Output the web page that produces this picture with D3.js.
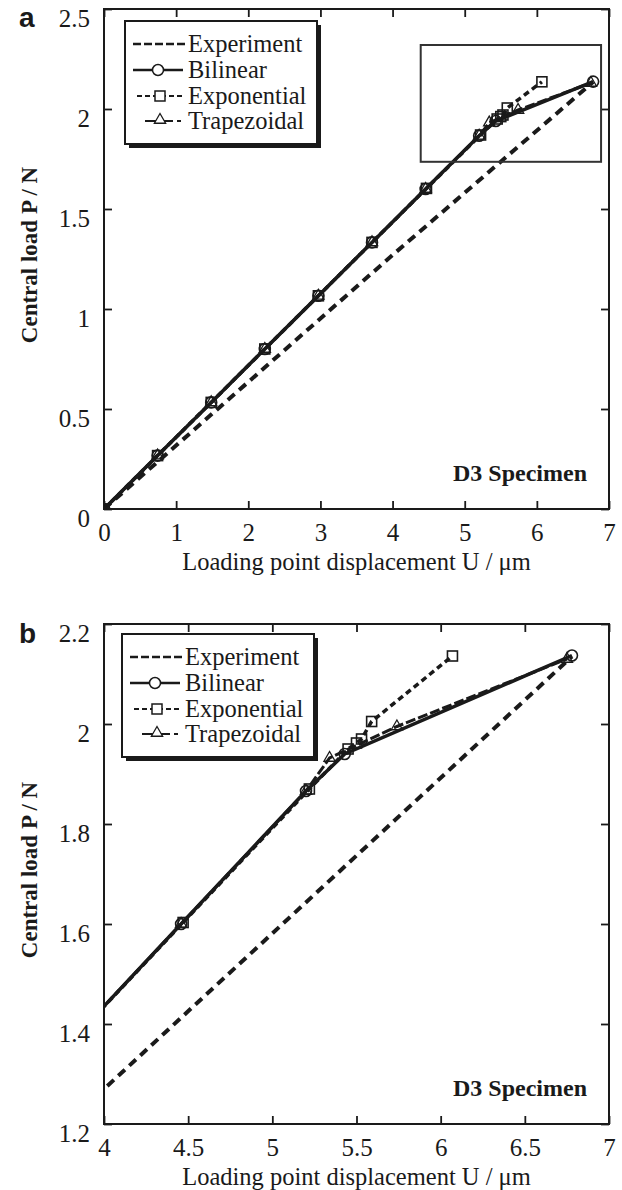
<!DOCTYPE html>
<html><head><meta charset="utf-8">
<script src="https://cdn.jsdelivr.net/npm/d3@7/dist/d3.min.js"></script>
<style>
html,body{margin:0;padding:0;background:#fff;}
svg{display:block;}
svg text{font-family:"Liberation Serif","Times New Roman",Times,"DejaVu Serif",serif;}
svg text.sans{font-family:"Liberation Sans",Arial,Helvetica,"DejaVu Sans",sans-serif;}
</style>
</head><body>
<svg id="chart" width="622" height="1190"></svg>
<script>
// ---- data ----
const seriesNames = ["Experiment", "Bilinear", "Exponential", "Trapezoidal"];
const expX = [0, 4.0, 6.78];
const expY = [0, 1.27, 2.135];
const bilX = [0, 0.743, 1.486, 2.229, 2.972, 3.715, 4.458, 5.2, 5.43, 6.78];
const bilY = [0, 0.267, 0.533, 0.800, 1.066, 1.333, 1.600, 1.866, 1.940, 2.137];
const expoX = [0, 0.743, 1.486, 2.229, 2.972, 3.715, 4.47, 5.22, 5.45, 5.5, 5.53, 5.59, 6.07];
const expoY = [0, 0.267, 0.533, 0.800, 1.066, 1.333, 1.603, 1.870, 1.950, 1.962, 1.970, 2.005, 2.136];
const trapX = [0, 0.743, 1.486, 2.229, 2.972, 3.715, 4.458, 5.2, 5.34, 5.74, 6.75];
const trapY = [0, 0.267, 0.533, 0.800, 1.066, 1.333, 1.600, 1.866, 1.932, 1.995, 2.13];
const zoomBoxX = [4.39, 6.89];
const zoomBoxY = [1.736, 2.32];

const xTicksA = [0, 1, 2, 3, 4, 5, 6, 7];
const xLabelsA = ["0", "1", "2", "3", "4", "5", "6", "7"];
const yTicksA = [0, 0.5, 1, 1.5, 2, 2.5];
const yLabelsA = ["0", "0.5", "1", "1.5", "2", "2.5"];
const xTicksB = [4, 4.5, 5, 5.5, 6, 6.5, 7];
const xLabelsB = ["4", "4.5", "5", "5.5", "6", "6.5", "7"];
const yTicksB = [1.2, 1.4, 1.6, 1.8, 2, 2.2];
const yLabelsB = ["1.2", "1.4", "1.6", "1.8", "2", "2.2"];

const xTitle = "Loading point displacement U / μm";
const yTitle = "Central load P / N";
const specimen = "D3 Specimen";

// ---- drawing ----
const svg = d3.select("#chart");
const INK = "#1a1a1a";

function zip(xs, ys){ return xs.map((x,i)=>({x, y: ys[i]})); }

const panels = [
  {id:"a", letter:"a", xDom:[0,7], yDom:[0,2.5], top:9, bottom:509,
   xt:xTicksA, xl:xLabelsA, yt:yTicksA, yl:yLabelsA, legTop:21, legLeft:125, box:true},
  {id:"b", letter:"b", xDom:[4,7], yDom:[1.2,2.2], top:624, bottom:1124,
   xt:xTicksB, xl:xLabelsB, yt:yTicksB, yl:yLabelsB, legTop:634, legLeft:122, box:false}
];
const L = 104, R = 609;

panels.forEach(p => {
  const x = d3.scaleLinear().domain(p.xDom).range([L, R]);
  const y = d3.scaleLinear().domain(p.yDom).range([p.bottom, p.top]);
  const g = svg.append("g");

  g.append("clipPath").attr("id", "clip-" + p.id)
    .append("rect").attr("x", L).attr("y", p.top).attr("width", R - L).attr("height", p.bottom - p.top);

  // axes
  const axB = g.append("g").attr("transform", `translate(0,${p.bottom})`)
    .call(d3.axisBottom(x).tickValues(p.xt).tickFormat((d,i)=>p.xl[i]).tickSizeInner(-8).tickSizeOuter(0).tickPadding(14));
  const axT = g.append("g").attr("transform", `translate(0,${p.top})`)
    .call(d3.axisTop(x).tickValues(p.xt).tickFormat("").tickSizeInner(-8).tickSizeOuter(0));
  const axL = g.append("g").attr("transform", `translate(${L},0)`)
    .call(d3.axisLeft(y).tickValues(p.yt).tickFormat((d,i)=>p.yl[i]).tickSizeInner(-8).tickSizeOuter(0).tickPadding(14));
  const axR = g.append("g").attr("transform", `translate(${R},0)`)
    .call(d3.axisRight(y).tickValues(p.yt).tickFormat("").tickSizeInner(-8).tickSizeOuter(0));
  [axB, axT, axL, axR].forEach(a => {
    a.attr("font-family", null).attr("font-size", null);
    a.select(".domain").remove();
    a.selectAll(".tick line").attr("stroke", INK).attr("stroke-width", 1.8);
    a.selectAll(".tick text").attr("font-size", 25).attr("fill", INK);
  });
  axL.selectAll(".tick text").attr("dy", "0.7em");

  // frame
  g.append("rect").attr("x", L).attr("y", p.top).attr("width", R - L).attr("height", p.bottom - p.top)
    .attr("fill", "none").attr("stroke", INK).attr("stroke-width", 2);

  // lines
  const line = d3.line().x(d => x(d.x)).y(d => y(d.y));
  const plot = g.append("g").attr("clip-path", `url(#clip-${p.id})`);

  plot.append("path").datum(zip(expX, expY)).attr("d", line)
    .attr("fill", "none").attr("stroke", INK).attr("stroke-width", 4).attr("stroke-dasharray", "9,6");
  plot.append("path").datum(zip(expoX, expoY)).attr("d", line)
    .attr("fill", "none").attr("stroke", INK).attr("stroke-width", 3.5).attr("stroke-dasharray", "6,4");
  plot.append("path").datum(zip(trapX, trapY)).attr("d", line)
    .attr("fill", "none").attr("stroke", INK).attr("stroke-width", 3).attr("stroke-dasharray", "10,3");
  plot.append("path").datum(zip(bilX, bilY)).attr("d", line)
    .attr("fill", "none").attr("stroke", INK).attr("stroke-width", 3.5);

  // markers
  const sq = 10;
  plot.selectAll(".sq").data(zip(expoX, expoY)).join("rect")
    .attr("x", d => x(d.x) - sq/2).attr("y", d => y(d.y) - sq/2).attr("width", sq).attr("height", sq)
    .attr("fill", "none").attr("stroke", INK).attr("stroke-width", 1.6);
  const tri = d3.symbol().type(d3.symbolTriangle).size(55);
  plot.selectAll(".tri").data(zip(trapX, trapY)).join("path")
    .attr("transform", d => `translate(${x(d.x)},${y(d.y)})`).attr("d", tri)
    .attr("fill", "none").attr("stroke", INK).attr("stroke-width", 1.3);
  plot.selectAll(".circ").data(zip(bilX, bilY)).join("circle")
    .attr("cx", d => x(d.x)).attr("cy", d => y(d.y)).attr("r", 5.5)
    .attr("fill", "none").attr("stroke", INK).attr("stroke-width", 1.6);

  // zoom box (panel a)
  if (p.box) {
    g.append("rect").attr("x", x(zoomBoxX[0])).attr("y", y(zoomBoxY[1]))
      .attr("width", x(zoomBoxX[1]) - x(zoomBoxX[0])).attr("height", y(zoomBoxY[0]) - y(zoomBoxY[1]))
      .attr("fill", "none").attr("stroke", "#333").attr("stroke-width", 2);
  }

  // legend
  const lw = 192, lh = 123;
  const lg = g.append("g").attr("transform", `translate(${p.legLeft},${p.legTop})`);
  lg.append("rect").attr("x", 4).attr("y", 4).attr("width", lw).attr("height", lh).attr("fill", INK);
  lg.append("rect").attr("x", 0).attr("y", 0).attr("width", lw).attr("height", lh)
    .attr("fill", "#fff").attr("stroke", INK).attr("stroke-width", 2);
  const rows = [23, 49, 75, 100];
  seriesNames.forEach((name, i) => {
    const cy = rows[i];
    lg.append("text").attr("x", 63).attr("y", cy + 8).text(name)
      .attr("font-size", 24.5).attr("fill", INK);
  });
  // Experiment sample
  lg.append("line").attr("x1", 8).attr("x2", 60).attr("y1", rows[0]).attr("y2", rows[0])
    .attr("stroke", INK).attr("stroke-width", 2.5).attr("stroke-dasharray", "8,3");
  // Bilinear
  lg.append("line").attr("x1", 8).attr("x2", 58).attr("y1", rows[1]).attr("y2", rows[1])
    .attr("stroke", INK).attr("stroke-width", 2.5);
  lg.append("circle").attr("cx", 33).attr("cy", rows[1]).attr("r", 5.5)
    .attr("fill", "#fff").attr("stroke", INK).attr("stroke-width", 1.5);
  // Exponential
  lg.append("line").attr("x1", 12).attr("x2", 58).attr("y1", rows[2]).attr("y2", rows[2])
    .attr("stroke", INK).attr("stroke-width", 2).attr("stroke-dasharray", "5,3");
  lg.append("rect").attr("x", 30).attr("y", rows[2] - 5).attr("width", 10).attr("height", 10)
    .attr("fill", "#fff").attr("stroke", INK).attr("stroke-width", 1.5);
  // Trapezoidal
  lg.append("line").attr("x1", 20).attr("x2", 56).attr("y1", rows[3]).attr("y2", rows[3])
    .attr("stroke", INK).attr("stroke-width", 2).attr("stroke-dasharray", "12,4");
  lg.append("path").attr("transform", `translate(35,${rows[3]-1})`).attr("d", tri)
    .attr("fill", "#fff").attr("stroke", INK).attr("stroke-width", 1.3);

  // specimen label
  g.append("text").attr("x", 587).attr("y", p.bottom - 28).attr("text-anchor", "end").text(specimen)
    .attr("font-size", 24).attr("font-weight", "bold").attr("fill", INK);

  // axis titles
  g.append("text").attr("x", (L + R) / 2).attr("y", p.bottom + 61).attr("text-anchor", "middle").text(xTitle)
    .attr("font-size", 24.5).attr("fill", INK);
  g.append("text").attr("transform", `translate(37,${(p.top + p.bottom) / 2 - 4}) rotate(-90)`)
    .attr("text-anchor", "middle").text(yTitle)
    .attr("font-size", 23).attr("font-weight", "bold").attr("fill", INK);

  // panel letter
  g.append("text").attr("class", "sans").attr("x", 19).attr("y", p.top + (p.id === "a" ? 18 : 19)).text(p.letter)
    .attr("font-size", 28).attr("font-weight", "bold").attr("fill", INK);
});
</script>
</body></html>
